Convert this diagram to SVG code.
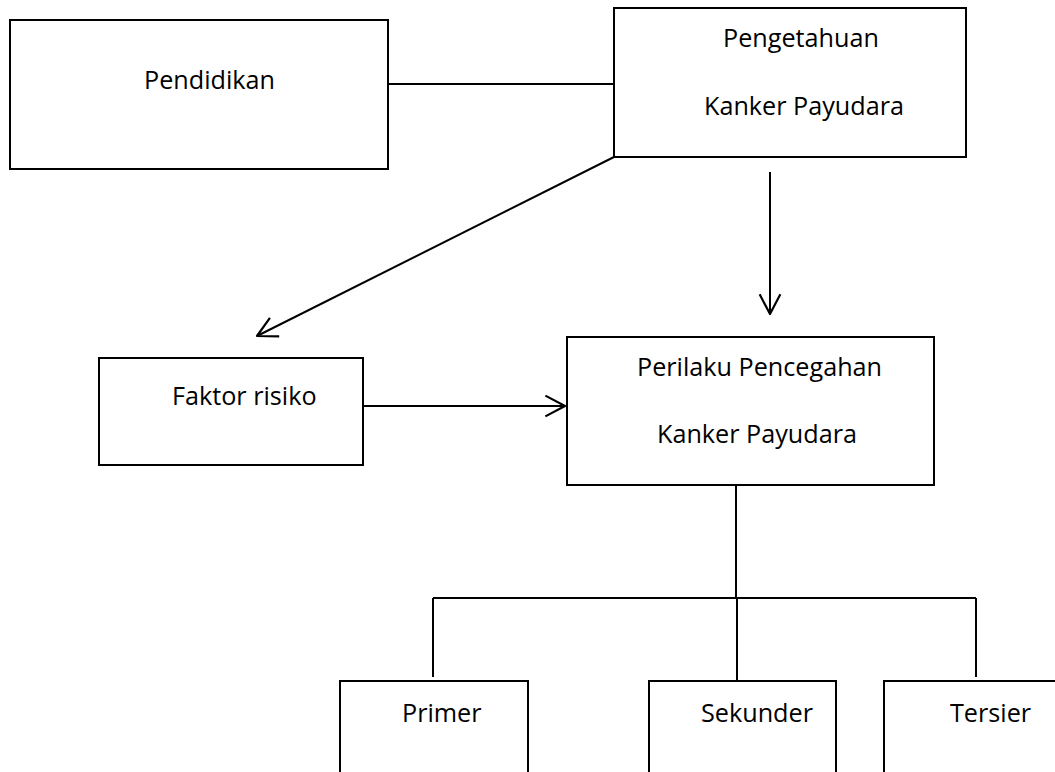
<svg xmlns="http://www.w3.org/2000/svg" width="1055" height="772" viewBox="0 0 1055 772">
<style>
.box{fill:#fff;stroke:#000;stroke-width:2}
.ln{fill:none;stroke:#000;stroke-width:2}
.t{font-family:"Open Sans","Noto Sans",sans-serif;font-size:25.2px;fill:#000}
</style>
<defs>
<marker id="arr" markerUnits="userSpaceOnUse" markerWidth="24" markerHeight="24" viewBox="-1 -1 22 22" refX="19" refY="10" orient="auto">
<path d="M1,0.5 L19,10 L1,19.5" fill="none" stroke="#000" stroke-width="2" stroke-linejoin="round"/>
</marker>
</defs>
<rect width="1055" height="772" fill="#fff"/>
<g id="connectors">
<line class="ln" x1="388" y1="84" x2="614" y2="84"/>
<line class="ln" x1="614" y1="157" x2="257" y2="336" marker-end="url(#arr)"/>
<line class="ln" x1="770" y1="172" x2="770" y2="314" marker-end="url(#arr)"/>
<line class="ln" x1="361" y1="406" x2="565" y2="406" marker-end="url(#arr)"/>
<line class="ln" x1="736" y1="486" x2="736" y2="598"/>
<line class="ln" x1="433" y1="598" x2="976" y2="598"/>
<line class="ln" x1="433" y1="598" x2="433" y2="677"/>
<line class="ln" x1="737" y1="598" x2="737" y2="681"/>
<line class="ln" x1="976" y1="598" x2="976" y2="677"/>
</g>
<g id="pendidikan">
<rect class="box" x="10" y="20" width="378" height="149"/>
<text class="t" x="144" y="89">Pendidikan</text>
</g>
<g id="pengetahuan">
<rect class="box" x="614" y="8" width="352" height="149"/>
<text class="t" x="723" y="47">Pengetahuan</text>
<text class="t" x="704" y="115">Kanker Payudara</text>
</g>
<g id="faktor">
<rect class="box" x="99" y="358" width="264" height="107"/>
<text class="t" x="172" y="405">Faktor risiko</text>
</g>
<g id="perilaku">
<rect class="box" x="567" y="337" width="367" height="148"/>
<text class="t" x="637" y="376">Perilaku Pencegahan</text>
<text class="t" x="657" y="443">Kanker Payudara</text>
</g>
<g id="primer">
<rect class="box" x="340" y="681" width="188" height="120"/>
<text class="t" x="402" y="722">Primer</text>
</g>
<g id="sekunder">
<rect class="box" x="649" y="681" width="187" height="120"/>
<text class="t" x="701" y="722">Sekunder</text>
</g>
<g id="tersier">
<path class="ln" d="M884,780 L884,681 L1060,681"/>
<text class="t" x="950" y="722">Tersier</text>
</g>
</svg>
